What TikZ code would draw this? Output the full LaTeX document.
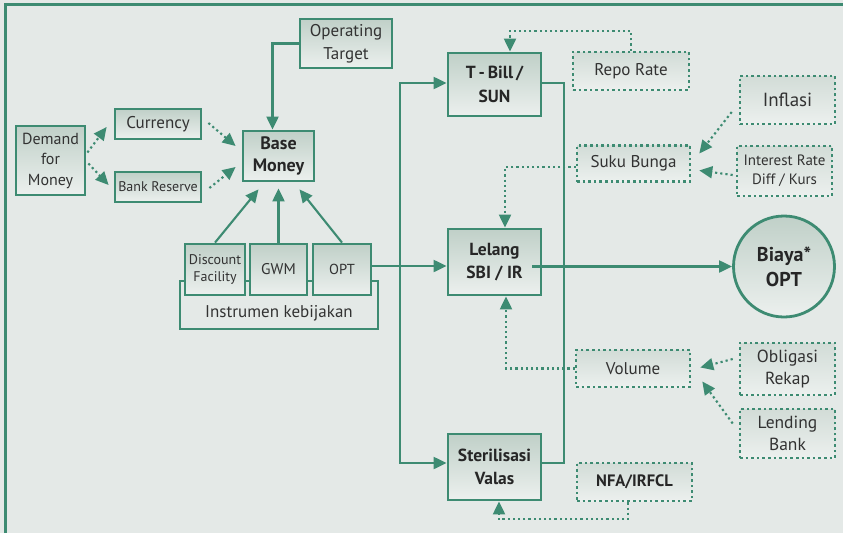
\documentclass[tikz,border=0pt]{standalone}
\usepackage{fontspec}
\setmainfont{PT Sans}
\usetikzlibrary{arrows.meta,calc,backgrounds}
\definecolor{gr}{RGB}{61,139,114}
\definecolor{bg}{RGB}{228,233,231}
\definecolor{boxtop}{RGB}{192,208,200}
\definecolor{boxbot}{RGB}{236,240,238}
\definecolor{dtop}{RGB}{210,220,215}
\definecolor{dbot}{RGB}{236,240,238}
\definecolor{txt}{RGB}{50,50,50}
\tikzset{
  box/.style={draw=gr, line width=2.8pt, top color=boxtop, bottom color=boxbot,
    inner sep=0pt, align=center, text=txt, rectangle},
  dbox/.style={draw=gr, line width=2.6pt, dash pattern=on 2.6pt off 3pt,
    top color=dtop, bottom color=dbot, inner sep=0pt, align=center, text=txt, rectangle},
  conn/.style={draw=gr, line width=2.1pt, -{Triangle[length=13pt,width=12pt]}},
  dconn/.style={draw=gr, line width=2.1pt, dash pattern=on 2.2pt off 3pt, -{Triangle[length=13pt,width=12pt]}},
  plain/.style={draw=gr, line width=2.1pt},
  fa/.style={font=\fontsize{17}{23}\selectfont},
  fb/.style={font=\fontsize{14}{19}\selectfont},
  fbold/.style={font=\fontsize{17.5}{23.5}\selectfont\bfseries, text=black!85},
}
\begin{document}
\begin{tikzpicture}[x=1pt,y=-1pt]
\useasboundingbox (0,0) rectangle (843,533);
\begin{scope}[on background layer]
  \fill[bg] (0,0) rectangle (843,533);
\end{scope}
\draw[gr, line width=3pt] (5,533) -- (5,4) -- (843,4);

% left part
\node[box, font=\fontsize{16}{20.5}\selectfont, minimum width=69pt, minimum height=69pt] (demand) at (50.5,160.5) {Demand\\for\\Money};
\node[box, fa, minimum width=86pt, minimum height=30pt] (currency) at (158,124) {Currency};
\node[box, fb, minimum width=86pt, minimum height=30pt] (bankres) at (158,187) {Bank Reserve};
\node[box, fbold, font=\fontsize{18}{22.5}\selectfont\bfseries, minimum width=71pt, minimum height=50pt] (base) at (278.5,156) {Base\\Money};
\node[box, fa, minimum width=92pt, minimum height=49pt] (optarget) at (346,43.5) {Operating\\Target};
\node[box, font=\fontsize{14}{17.5}\selectfont, minimum width=60pt, minimum height=51pt] (disc) at (215,269.5) {Discount\\Facility};
\node[box, font=\fontsize{15.5}{19}\selectfont, minimum width=57pt, minimum height=51pt] (gwm) at (278.5,269.5) {GWM};
\node[box, font=\fontsize{14.5}{19}\selectfont, minimum width=58pt, minimum height=51pt] (opt) at (342,269.5) {OPT};

% bracket
\begin{scope}[on background layer]
  \draw[gr, line width=2.2pt] (180,281) -- (180,329) -- (378,329) -- (378,281) -- cycle;
\end{scope}
\node[fa, text=txt] (instr) at (279,313) {Instrumen kebijakan};

% right part
\node[box, fbold, minimum width=93pt, minimum height=63pt] (tbill) at (494.5,84.5) {T\,-\,Bill\,/\\SUN};
\node[box, fbold, minimum width=93pt, minimum height=66pt] (lelang) at (494.5,262) {Lelang\\SBI / IR};
\node[box, fbold, minimum width=93pt, minimum height=66pt] (steril) at (494.5,467) {Sterilisasi\\Valas};

\node[dbox, fa, minimum width=116pt, minimum height=38pt] (repo) at (631,71) {Repo Rate};
\node[dbox, font=\fontsize{19}{23}\selectfont, minimum width=95pt, minimum height=48pt] (inflasi) at (787.5,100) {Inflasi};
\node[dbox, fa, minimum width=113pt, minimum height=36pt] (suku) at (633.5,163.5) {Suku Bunga};
\node[dbox, font=\fontsize{15}{19}\selectfont, minimum width=95pt, minimum height=50pt] (ird) at (784.5,171) {Interest Rate\\Diff / Kurs};
\node[dbox, fa, minimum width=114pt, minimum height=37pt] (volume) at (633,368.5) {Volume};
\node[dbox, font=\fontsize{17.5}{21.5}\selectfont, minimum width=95pt, minimum height=52pt] (oblig) at (787.5,369) {Obligasi\\Rekap};
\node[dbox, font=\fontsize{17.5}{21.5}\selectfont, minimum width=95pt, minimum height=49pt] (lending) at (787.5,433.5) {Lending\\Bank};
\node[dbox, font=\fontsize{16.5}{20}\selectfont\bfseries, text=black!85, minimum width=115pt, minimum height=38pt] (nfa) at (634.5,482) {NFA/IRFCL};

\node[circle, draw=gr, line width=2.8pt, top color=boxtop, bottom color=boxbot, minimum size=101pt, inner sep=0pt, align=center, font=\fontsize{20}{25}\selectfont\bfseries, text=black!85] (biaya) at (784,266.5) {Biaya*\\OPT};

% connectors left
\draw[conn] (optarget.west) -| ($(base.north)+(-6,0)$);
\draw[dconn] ($(demand.east)+(1,-8)$) -- ($(currency.west)+(-7,3)$);
\draw[dconn] ($(demand.east)+(2,3)$) -- ($(bankres.west)+(-5,-2)$);
\draw[dconn] ($(currency.east)+(6,-1)$) -- ($(base.west)+(-6,-10)$);
\draw[dconn] ($(bankres.east)+(7,1)$) -- ($(base.west)+(-6,11)$);
\draw[conn] (disc.north) -- ($(base.south)+(-20,7)$);
\draw[conn] (gwm.north) -- ($(base.south)+(0,6)$);
\draw[conn] (opt.north) -- ($(base.south)+(21,7)$);

% trunk
\coordinate (j) at (400,266);
\draw[plain] ($(opt.east)+(0,-3.5)$) -- (j);
\draw[conn] (j) -- (j -| lelang.west);
\draw[conn] (j) |- ($(tbill.west)+(0,-1.5)$);
\draw[conn] (j) |- ($(steril.west)+(0,-4)$);
\draw[plain] ($(tbill.east)+(0,-1.5)$) -- ++(22,0) |- ($(steril.east)+(0,-4)$);
\draw[conn] ($(biaya.west)+(-200,0)$ -| lelang.east) -- (biaya.west);

% connectors right
\draw[dconn] (repo.north) -- ++(0,-20) -| ($(tbill.north)+(15.5,0)$);
\draw[dconn] ($(inflasi.west)+(-7,12)$) -- ($(suku.east)+(8,-10)$);
\draw[dconn] ($(ird.west)+(-3,4)$) -- ($(suku.east)+(8,7)$);
\draw[dconn] ($(suku.west)+(0,3.5)$) -| ($(lelang.north)+(10.5,0)$);
\draw[dconn] (volume.west) -| ($(lelang.south)+(11.5,0)$);
\draw[dconn] ($(oblig.west)+(-6,-10)$) -- ($(volume.east)+(9,-1)$);
\draw[dconn] ($(lending.west)+(-6,-10)$) -- ($(volume.east)+(11,13)$);
\draw[dconn] ($(nfa.south)+(-6.5,0)$) -- ++(0,17) -| ($(steril.south)+(4.5,0)$);
\end{tikzpicture}
\end{document}
